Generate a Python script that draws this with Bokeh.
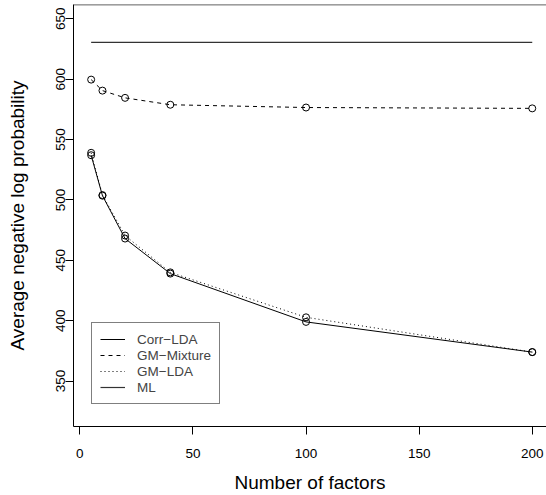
from bokeh.plotting import figure
from bokeh.models import Range1d, FixedTicker, Legend, LegendItem, Span
from bokeh.embed import file_html
from bokeh.resources import INLINE

factors = [5, 10, 20, 40, 100, 200]
corr_lda = [537, 503.5, 468, 439, 399, 374]
gm_mixture = [599.6, 590.5, 584.5, 578.8, 576.5, 575.8]
gm_lda = [539, 504, 470.5, 440, 402.8, 374]
ml = [630.5, 630.5, 630.5, 630.5, 630.5, 630.5]
x_ticks = [0, 50, 100, 150, 200]
y_ticks = [350, 400, 450, 500, 550, 600, 650]

FONT = "Liberation Sans"

p = figure(width=546, height=495, output_backend="svg", toolbar_location=None,
           x_range=Range1d(-2.8, 206.3), y_range=Range1d(312.4, 661.8),
           min_border_left=73, min_border_right=0, min_border_top=4, min_border_bottom=64)
p.outline_line_color = None
p.grid.visible = False
p.background_fill_color = "white"
p.border_fill_color = "white"

# top border of the box
p.add_layout(Span(location=661.6, dimension="width", line_color="black", line_width=1))

r_ml = p.line(factors, ml, line_color="#333333", line_width=1.2)
r_corr = p.line(factors, corr_lda, line_color="black", line_width=1)
r_mix = p.line(factors, gm_mixture, line_color="black", line_width=1, line_dash="4 4")
r_gml = p.line(factors, gm_lda, line_color="black", line_width=1, line_dash="1 3")
for ys in (corr_lda, gm_mixture, gm_lda):
    p.scatter(factors, ys, marker="circle", size=7, fill_color=None,
              line_color="black", line_width=1)

for ax in (p.xaxis[0], p.yaxis[0]):
    ax.axis_line_color = "black"
    ax.major_tick_in = 0
    ax.major_tick_out = 8
    ax.minor_tick_line_color = None
    ax.major_label_text_font = FONT
    ax.major_label_text_font_size = "13.5px"
    ax.major_label_text_color = "black"
    ax.axis_label_text_font = FONT
    ax.axis_label_text_font_size = "19px"
    ax.axis_label_text_font_style = "normal"
    ax.axis_label_text_color = "black"

p.xaxis[0].ticker = FixedTicker(ticks=x_ticks)
p.yaxis[0].ticker = FixedTicker(ticks=y_ticks)
p.xaxis[0].axis_label = "Number of factors"
p.yaxis[0].axis_label = "Average negative log probability"
p.xaxis[0].major_label_standoff = 14
p.xaxis[0].axis_label_standoff = 11
p.yaxis[0].major_label_orientation = "vertical"
p.yaxis[0].major_label_text_baseline = "middle"
p.yaxis[0].major_label_standoff = 0
p.yaxis[0].axis_label_standoff = 26

legend = Legend(items=[
    LegendItem(label="Corr\u2212LDA", renderers=[r_corr]),
    LegendItem(label="GM\u2212Mixture", renderers=[r_mix]),
    LegendItem(label="GM\u2212LDA", renderers=[r_gml]),
    LegendItem(label="ML", renderers=[r_ml]),
], location=(18, 22))
legend.border_line_color = "black"
legend.border_line_width = 1
legend.background_fill_alpha = 1
legend.label_text_font = FONT
legend.label_text_font_size = "13.5px"
legend.glyph_width = 25
legend.glyph_height = 16
legend.label_height = 16
legend.label_standoff = 12
legend.spacing = 0
legend.padding = 8
legend.margin = 0
p.add_layout(legend, "center")

open("out.html", "w").write(file_html(p, INLINE))
